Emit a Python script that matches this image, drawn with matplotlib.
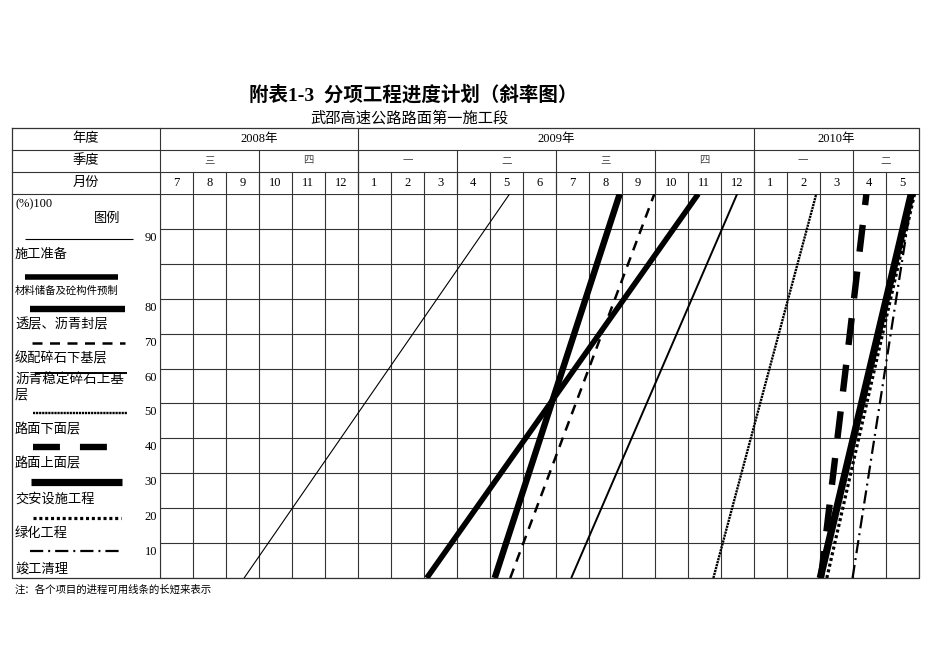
import matplotlib
matplotlib.use('Agg')
import matplotlib.pyplot as plt

plt.rcParams['lines.scale_dashes'] = False
plt.rcParams['font.family'] = ['Liberation Serif', 'Noto Sans CJK SC']

# ---------------- data ----------------
title = '附表1-3  分项工程进度计划（斜率图）'
subtitle = '武邵高速公路路面第一施工段'
note = '注：各个项目的进程可用线条的长短来表示'

years = ['2008年', '2009年', '2010年']
year_months = [6, 12, 5]
quarters = ['三', '四', '一', '二', '三', '四', '一', '二']
quarter_months = [3, 3, 3, 3, 3, 3, 3, 2]
months = ['7', '8', '9', '10', '11', '12',
          '1', '2', '3', '4', '5', '6', '7', '8', '9', '10', '11', '12',
          '1', '2', '3', '4', '5']
row_labels = ['年度', '季度', '月份']
pct_labels = ['90', '80', '70', '60', '50', '40', '30', '20', '10']

tasks = ['施工准备', '材料储备及砼构件预制', '透层、沥青封层', '级配碎石下基层',
         '沥青稳定碎石上基层', '路面下面层', '路面上面层', '交安设施工程',
         '绿化工程', '竣工清理']
# month position measured from the start of July 2008
start_month = [2.55, 8.09, 10.15, 10.62, 12.47, 16.78, 20.04, 20.02, 20.22, 21.0]
finish_month = [10.6, 16.32, 13.94, 14.99, 17.5, 19.9, 21.42, 22.78, 22.88, 22.82]
start_pct = [0, 0, 0, 0, 0, 0, 0, 0, 0, 0]
finish_pct = [100, 100, 100, 100, 100, 100, 100, 100, 100, 100]

# ---------------- styles ----------------
styles = [
    dict(lw=0.8),
    dict(lw=4.0),
    dict(lw=4.6),
    dict(lw=1.8, dashes=(7.2, 5.4)),
    dict(lw=1.4),
    dict(lw=1.7, dashes=(1.6, 0.6)),
    dict(lw=4.6, dashes=(19.4, 14.4)),
    dict(lw=5.2),
    dict(lw=2.3, dashes=(2.2, 2.0)),
    dict(lw=1.6, dashes=(9.5, 3.6, 1.4, 3.6)),
]
zorders = [3, 3, 3, 3, 3, 3, 3, 4, 5, 3]

W, H = 950, 672
L, R, T0, T1, T2, T3, B = 12, 918.5, 128, 150, 172, 194, 578
C = 160
grid_col = '#333333'

fig = plt.figure(figsize=(W / 100, H / 100), dpi=100)
fig.patch.set_facecolor('white')

bg = fig.add_axes([0, 0, 1, 1])
bg.set_xlim(0, W)
bg.set_ylim(H, 0)
bg.axis('off')

# chart axes
ax = fig.add_axes([C / W, (H - B) / H, (R - C) / W, (B - T3) / H])
ax.set_xlim(0, len(months))
ax.set_ylim(0, 100)
ax.axis('off')
ax.patch.set_alpha(0)

nrows = 11
for k in range(len(months) + 1):
    ax.axvline(k, color=grid_col, lw=0.8, zorder=1)
for j in range(nrows + 1):
    ax.axhline(100 * j / nrows, color=grid_col, lw=0.8, zorder=1)

for i in range(len(tasks)):
    st = styles[i]
    kw = dict(color='black', lw=st['lw'], solid_capstyle='butt',
              dash_capstyle='butt', zorder=zorders[i])
    if 'dashes' in st:
        kw['dashes'] = st['dashes']
    ax.plot([start_month[i], finish_month[i]], [start_pct[i], finish_pct[i]], **kw)

# header axes
hdr = fig.add_axes([C / W, (H - T3) / H, (R - C) / W, (T3 - T0) / H])
hdr.set_xlim(0, len(months))
hdr.set_ylim(3, 0)
hdr.axis('off')
hdr.patch.set_alpha(0)
hdr.axhline(1, color=grid_col, lw=0.8)
hdr.axhline(2, color=grid_col, lw=0.8)

pos = 0
for y, n in zip(years, year_months):
    hdr.text(pos + n / 2, 0.5, y, ha='center', va='center', fontsize=9)
    pos += n
    if pos < len(months):
        hdr.plot([pos, pos], [0, 3], color=grid_col, lw=0.8)
pos = 0
for q, n in zip(quarters, quarter_months):
    hdr.text(pos + n / 2, 1.5, q, ha='center', va='center', fontsize=7.5, color='#444')
    pos += n
    if pos < len(months):
        hdr.plot([pos, pos], [1, 3], color=grid_col, lw=0.8)
for k, m in enumerate(months):
    hdr.text(k + 0.5, 2.5, m, ha='center', va='center', fontsize=9)
    hdr.plot([k, k], [2, 3], color=grid_col, lw=0.8)

# outer frame and label column
bg.plot([L, R, R, L, L], [T0, T0, B, B, T0], color=grid_col, lw=0.9)
bg.plot([C, C], [T0, B], color=grid_col, lw=0.8)
for y in (T1, T2, T3):
    bg.plot([L, C], [y, y], color=grid_col, lw=0.8)
for lab, y in zip(row_labels, [139, 161, 183]):
    bg.text(86, y, lab, ha='center', va='center', fontsize=9.5)

# titles
bg.text(413, 95, title, ha='center', va='center', fontsize=14, fontweight='bold')
bg.text(409, 118, subtitle, ha='center', va='center', fontsize=11)
bg.text(15, 590, note, ha='left', va='center', fontsize=7.5)

# legend column
bg.text(15, 204, '(%)100', ha='left', va='center', fontsize=9)
bg.text(107, 219, '图例', ha='center', va='center', fontsize=9.5)
leg_y = [239, 277, 309, 343, 373, 413, 447, 482, 518, 551]
leg_x = [(25, 133), (25, 118), (30, 125), (32, 125), (35, 127),
         (33, 127), (33, 108), (31, 122), (33, 121), (30, 122)]
lab_y = [255, 291, 325, 359, 380, 430, 464, 499, 534, 569]
for i in range(len(tasks)):
    st = styles[i]
    kw = dict(color='black', lw=st['lw'], solid_capstyle='butt', dash_capstyle='butt')
    if 'dashes' in st:
        kw['dashes'] = st['dashes']
    bg.plot(list(leg_x[i]), [leg_y[i], leg_y[i]], **kw)
    label = tasks[i]
    fs = 9.5
    if i == 1:
        fs = 7.5
    if i == 4:
        bg.text(15, lab_y[i], label[:-1], ha='left', va='center', fontsize=9.8)
        bg.text(15, lab_y[i] + 15, label[-1], ha='left', va='center', fontsize=9.5)
        continue
    bg.text(15, lab_y[i], label, ha='left', va='center', fontsize=fs)

pct_y = [238, 308, 343, 378, 412, 447, 482, 517, 552]
for lab, y in zip(pct_labels, pct_y):
    bg.text(157, y, lab, ha='right', va='center', fontsize=9)

fig.savefig('out.png', dpi=100)
